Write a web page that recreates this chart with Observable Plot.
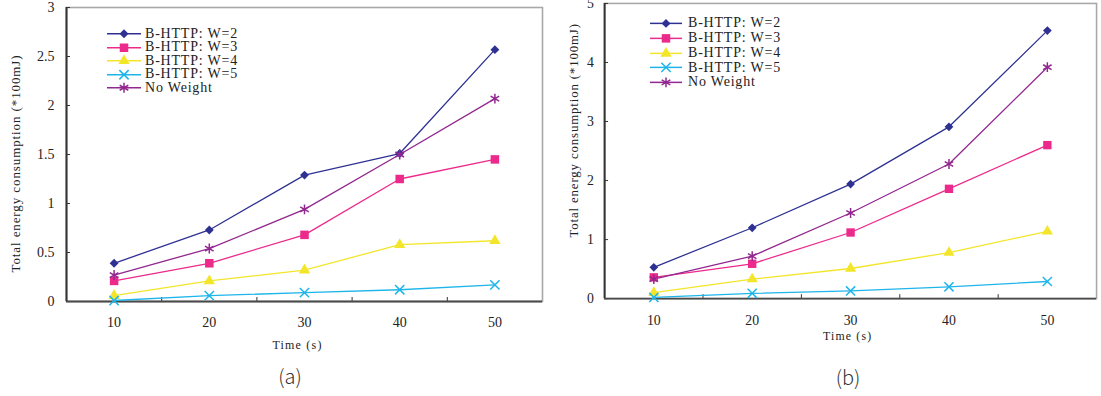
<!DOCTYPE html>
<html><head><meta charset="utf-8">
<script src="https://cdn.jsdelivr.net/npm/d3@7"></script>
<script src="https://cdn.jsdelivr.net/npm/@observablehq/plot@0.6"></script>
<style>
html,body{margin:0;padding:0;background:#fff;}
body{overflow:hidden;width:1101px;height:396px;position:relative;font-family:"Liberation Serif",serif;}
.panel{position:absolute;top:0;}
.panel svg text{font-family:"Liberation Serif",serif;}
.cap{position:absolute;font-family:"Noto Sans CJK SC",sans-serif;font-size:20px;font-weight:300;color:#333;transform:translate(-50%,-50%);white-space:nowrap;}
.legend{position:absolute;font-family:"Liberation Serif",serif;font-size:14px;letter-spacing:0.8px;color:#222;}
.legend .row{display:flex;align-items:center;white-space:nowrap;}
.legend svg{overflow:visible;display:block;}
</style></head><body>
<div id="a" class="panel" style="left:0px"></div>
<div id="b" class="panel" style="left:550px"></div>
<div id="legA" class="legend"></div>
<div id="legB" class="legend"></div>
<div class="cap" style="left:290px;top:375px">(a)</div>
<div class="cap" style="left:848px;top:376px">(b)</div>
<script>
// ---- data ----
const times = [10, 20, 30, 40, 50];
const seriesNames = ["B-HTTP: W=2", "B-HTTP: W=3", "B-HTTP: W=4", "B-HTTP: W=5", "No Weight"];
const seriesColors = ["#2e3192", "#ec2a8c", "#f3e62a", "#1eb5ea", "#92278f"];
const seriesSymbols = ["diamond2", "square", "triangle", "times", "asterisk"];
const yTitle = "Total energy consumption (*100mJ)";
const xTitle = "Time (s)";

// panel (a)
const aW2 = [0.39, 0.73, 1.29, 1.51, 2.57];
const aW3 = [0.21, 0.39, 0.68, 1.25, 1.45];
const aW4 = [0.06, 0.21, 0.32, 0.58, 0.62];
const aW5 = [0.01, 0.06, 0.09, 0.12, 0.17];
const aNoW = [0.27, 0.54, 0.94, 1.50, 2.07];
const aTicks = [0, 0.5, 1, 1.5, 2, 2.5, 3];

// panel (b)
const bW2 = [0.53, 1.20, 1.94, 2.91, 4.54];
const bW3 = [0.36, 0.59, 1.12, 1.86, 2.60];
const bW4 = [0.10, 0.33, 0.51, 0.78, 1.14];
const bW5 = [0.02, 0.09, 0.13, 0.20, 0.29];
const bNoW = [0.33, 0.72, 1.45, 2.28, 3.92];
const bTicks = [0, 1, 2, 3, 4, 5];

// ---- styles ----
const FONT = "Liberation Serif";
const filled = [true, true, true, false, false];
const markerR = [4.0, 4.8, 4.2, 4.3, 4.7];

function makeRows(lists) {
  return lists.flatMap((vals, i) => vals.map((v, j) => ({series: seriesNames[i], time: times[j], value: v})));
}

// band edges between categories (Excel-style tick marks)
const step = times[1] - times[0];
const xDomain = [times[0] - step / 2, times[times.length - 1] + step / 2];
const bandEdges = times.slice(1).map((t, i) => (t + times[i]) / 2);

function panel(o) {
  const rows = makeRows(o.lists);
  const plotW = o.width - o.ml - o.mr;
  const plotH = o.height - o.mt - o.mb;
  const dots = seriesNames.map((name, i) => {
    const data = rows.filter(d => d.series === name);
    const opts = {x: "time", y: "value", symbol: seriesSymbols[i], r: markerR[i]};
    if (filled[i]) Object.assign(opts, {fill: seriesColors[i], stroke: "none"});
    else Object.assign(opts, {fill: "none", stroke: seriesColors[i], strokeWidth: 1.5});
    return Plot.dot(data, opts);
  });
  return Plot.plot({
    width: o.width, height: o.height,
    marginLeft: o.ml, marginRight: o.mr, marginTop: o.mt, marginBottom: o.mb,
    style: {fontFamily: FONT, fontSize: "14px", color: "#222", background: "transparent", overflow: "visible"},
    x: {type: "linear", domain: xDomain},
    y: {type: "linear", domain: [0, o.ticks[o.ticks.length - 1]]},
    color: {domain: seriesNames, range: seriesColors},
    marks: [
      Plot.frame({stroke: "#a8a8a8", strokeWidth: 1.6}),
      Plot.axisY(o.ticks, {tickSize: 0, tickPadding: o.yPad, tickFormat: d => String(d), label: null, fontSize: 14, fontFamily: FONT, fill: "#222"}),
      Plot.tickY(o.ticks, {y: d => d, insetRight: plotW - 4, stroke: "#333", strokeWidth: 1}),
      Plot.axisX(times, {tickSize: 0, tickPadding: o.xPad, tickFormat: d => String(d), label: null, fontSize: 14, fontFamily: FONT, fill: "#222"}),
      Plot.tickX(bandEdges, {x: d => d, insetTop: plotH - 4, stroke: "#333", strokeWidth: 1}),
      Plot.ruleY([o.ticks[0]], {stroke: "#4a4a4a", strokeWidth: 2}),
      Plot.ruleX([xDomain[0]], {stroke: "#333", strokeWidth: 2}),
      Plot.line(rows, {x: "time", y: "value", z: "series", stroke: "series", strokeWidth: 1.3}),
      ...dots,
      Plot.text([xTitle], {frameAnchor: "bottom", textAnchor: "middle", dx: o.xtDx, dy: o.xtDy, fontSize: 12, fontFamily: FONT, fill: "#222"}),
      Plot.text([yTitle], {frameAnchor: "left", textAnchor: "middle", rotate: -90, dx: o.ytDx, dy: o.ytDy, fontSize: 13, fontFamily: FONT, fill: "#222"})
    ]
  });
}

const svgA = panel({lists: [aW2, aW3, aW4, aW5, aNoW], ticks: aTicks,
  width: 550, height: 361, ml: 66, mr: 8, mt: 7, mb: 60, yPad: 12, xPad: 16,
  xtDx: -7, xtDy: 47, ytDx: -51, ytDy: 9});
const svgB = panel({lists: [bW2, bW3, bW4, bW5, bNoW], ticks: bTicks,
  width: 560, height: 360, ml: 55, mr: 5, mt: 3, mb: 57, yPad: 11, xPad: 17,
  xtDx: -3, xtDy: 42, ytDx: -31, ytDy: -21});
document.getElementById("a").append(svgA);
document.getElementById("b").append(svgB);
[svgA, svgB].forEach(svg => svg.querySelectorAll("text").forEach(t => {
  if (t.textContent === yTitle) t.setAttribute("letter-spacing", "0.9");
  if (t.textContent === xTitle) t.setAttribute("letter-spacing", "1.2");
}));

// ---- legends ----
const d3Sym = {diamond2: d3.symbolDiamond2, square: d3.symbolSquare, triangle: d3.symbolTriangle, times: d3.symbolTimes, asterisk: d3.symbolAsterisk};
function legend(el, left, top, rowH, lineW, gap) {
  el.style.left = left + "px";
  el.style.top = top + "px";
  seriesNames.forEach((name, i) => {
    const row = document.createElement("div");
    row.className = "row";
    row.style.height = rowH + "px";
    const svg = d3.create("svg").attr("width", lineW).attr("height", rowH);
    svg.append("line").attr("x1", 0).attr("x2", lineW).attr("y1", rowH / 2).attr("y2", rowH / 2)
      .attr("stroke", seriesColors[i]).attr("stroke-width", 1.5);
    const path = d3.symbol(d3Sym[seriesSymbols[i]], Math.PI * markerR[i] * markerR[i])();
    svg.append("path").attr("d", path).attr("transform", `translate(${lineW / 2},${rowH / 2})`)
      .attr("fill", filled[i] ? seriesColors[i] : "none")
      .attr("stroke", filled[i] ? "none" : seriesColors[i]).attr("stroke-width", 1.5);
    row.append(svg.node());
    const span = document.createElement("span");
    span.textContent = name;
    span.style.marginLeft = gap + "px";
    row.append(span);
    el.append(row);
  });
}
legend(document.getElementById("legA"), 107, 27, 13.5, 34, 4);
legend(document.getElementById("legB"), 650, 16, 14.75, 32, 6);
</script>
</body></html>
